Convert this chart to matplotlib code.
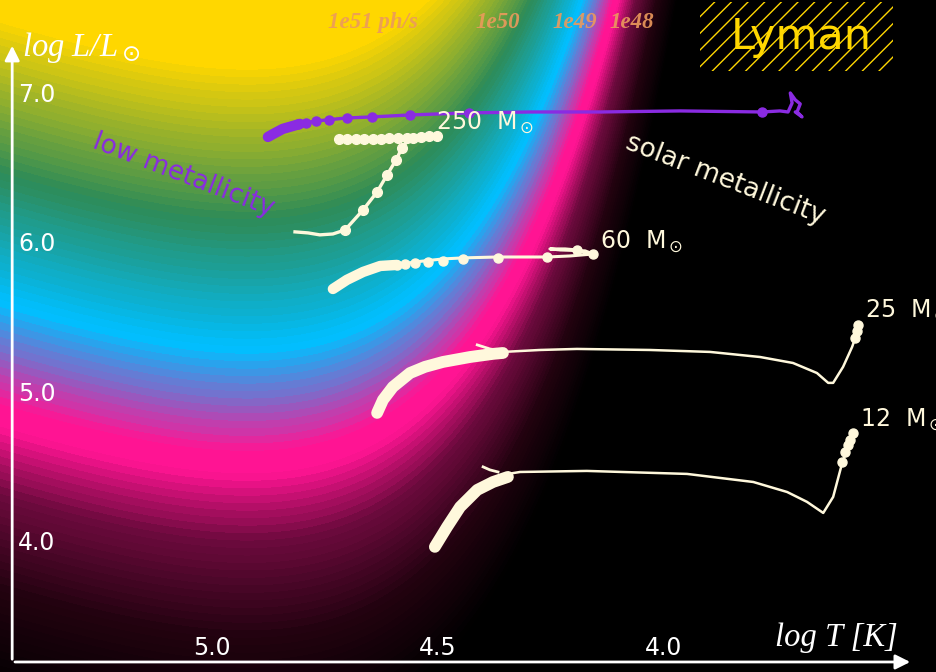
import numpy as np
import matplotlib
matplotlib.use("Agg")
import matplotlib.pyplot as plt
from matplotlib.colors import LinearSegmentedColormap, Normalize
from matplotlib.patches import Rectangle, FancyArrowPatch

# ---------------- data ----------------
# low metallicity 250 Msun track (purple)
lowz_T = [4.876, 4.843, 4.805, 4.769, 4.701, 4.645, 4.561, 4.430, 4.295, 4.140, 3.962, 3.780,
          3.741, 3.723, 3.714, 3.718, 3.707, 3.696, 3.703, 3.692, 3.707]
lowz_L = [6.719, 6.773, 6.806, 6.826, 6.846, 6.853, 6.866, 6.880, 6.886, 6.886, 6.893, 6.886,
          6.893, 6.886, 6.946, 7.013, 6.967, 6.940, 6.886, 6.853, 6.886]
lowz_ms_T = [4.876, 4.860, 4.843, 4.820, 4.805]
lowz_ms_L = [6.719, 6.746, 6.773, 6.793, 6.806]
lowz_dot_T = [4.809, 4.792, 4.769, 4.741, 4.701, 4.645, 4.561, 4.430, 3.780]
lowz_dot_L = [6.806, 6.813, 6.826, 6.833, 6.846, 6.853, 6.866, 6.880, 6.886]

# solar metallicity tracks (cornsilk)
m250_T = [4.718, 4.672, 4.627, 4.583, 4.539, 4.501, 4.528, 4.561, 4.574, 4.579, 4.592, 4.612,
          4.634, 4.665, 4.705, 4.732, 4.761, 4.787, 4.816]
m250_L = [6.706, 6.706, 6.706, 6.712, 6.719, 6.726, 6.719, 6.706, 6.666, 6.645, 6.565, 6.465,
          6.351, 6.231, 6.097, 6.070, 6.064, 6.077, 6.084]
m250_dot_T = [4.718, 4.701, 4.681, 4.663, 4.643, 4.625, 4.608, 4.588, 4.568, 4.554, 4.537, 4.519,
              4.501, 4.705, 4.665, 4.634, 4.612, 4.592, 4.579]
m250_dot_L = [6.706, 6.706, 6.706, 6.706, 6.706, 6.706, 6.712, 6.712, 6.712, 6.712, 6.719, 6.726,
              6.726, 6.097, 6.231, 6.351, 6.465, 6.565, 6.645]

m60_ms_T = [4.732, 4.701, 4.665, 4.627, 4.590]
m60_ms_L = [5.702, 5.763, 5.816, 5.856, 5.863]
m60_T = [4.590, 4.550, 4.488, 4.443, 4.366, 4.257, 4.206, 4.155, 4.173, 4.228, 4.251, 4.217, 4.191, 4.169]
m60_L = [5.863, 5.883, 5.903, 5.910, 5.916, 5.916, 5.923, 5.936, 5.957, 5.963, 5.970, 5.970, 5.963, 5.943]
m60_dot_T = [4.590, 4.572, 4.550, 4.521, 4.488, 4.443, 4.366, 4.257, 4.191, 4.155]
m60_dot_L = [5.863, 5.870, 5.876, 5.883, 5.890, 5.903, 5.910, 5.916, 5.963, 5.936]

m25_ms_T = [4.634, 4.621, 4.599, 4.561, 4.528, 4.488, 4.428, 4.377, 4.355]
m25_ms_L = [4.873, 4.960, 5.047, 5.140, 5.181, 5.214, 5.247, 5.268, 5.274]
m25_hook_T = [4.412, 4.384, 4.361]
m25_hook_L = [5.328, 5.301, 5.288]
m25_T = [4.355, 4.273, 4.191, 4.029, 3.896, 3.785, 3.712, 3.659, 3.634, 3.623, 3.601, 3.581, 3.574, 3.568]
m25_L = [5.281, 5.294, 5.301, 5.294, 5.281, 5.247, 5.207, 5.140, 5.074, 5.074, 5.181, 5.314, 5.375, 5.462]
m25_dot_T = [3.574, 3.570, 3.568]
m25_dot_L = [5.375, 5.421, 5.462]

m12_ms_T = [4.506, 4.479, 4.450, 4.412, 4.377, 4.344]
m12_ms_L = [3.977, 4.110, 4.244, 4.358, 4.411, 4.445]
m12_hook_T = [4.399, 4.384, 4.366]
m12_hook_L = [4.512, 4.492, 4.478]
m12_T = [4.344, 4.317, 4.169, 3.947, 3.800, 3.725, 3.681, 3.645, 3.623, 3.603, 3.590, 3.579]
m12_L = [4.465, 4.478, 4.485, 4.465, 4.411, 4.344, 4.278, 4.204, 4.311, 4.538, 4.645, 4.746]
m12_dot_T = [3.603, 3.596, 3.590, 3.585, 3.579]
m12_dot_L = [4.545, 4.612, 4.659, 4.692, 4.739]

mass_labels = ["250  M$_\\odot$", "60  M$_\\odot$", "25  M$_\\odot$", "12  M$_\\odot$"]
mass_label_T = [4.503, 4.140, 3.552, 3.563]
mass_label_L = [6.813, 6.017, 5.555, 4.826]

flux_labels = ["1e51 ph/s", "1e50", "1e49", "1e48"]
flux_label_T = [4.743, 4.417, 4.246, 4.118]
flux_label_L = 7.485

xticks = [5.0, 4.5, 4.0]
yticks = [7.0, 6.0, 5.0, 4.0]

# colour scale of ionising photon rate (log10 Q)
q_nodes = [46.5, 47.2, 47.85, 48.30, 48.45, 49.14, 50.00, 51.04]
q_colors = ["#000000", "#22020F", "#6E0A3E", "#FF1493", "#FF1493", "#00BFFF", "#2E8B57", "#FFD700"]
E0 = 15.6  # effective ionisation edge used for the background [eV]

# ---------------- figure ----------------
fig = plt.figure(figsize=(9.36, 6.72), dpi=100)
ax = fig.add_axes([0, 0, 1, 1])
ax.set_xlim(5.470, 3.395)
ax.set_ylim(3.140, 7.635)
ax.axis("off")

# background: blackbody ionising photon rate
k_eV = 8.617e-5
xs = np.linspace(1e-6, 90, 200001)
integrand = xs**2 / np.expm1(xs)
dx = xs[1] - xs[0]
G_cum = np.cumsum(integrand[::-1])[::-1] * dx
lT = np.linspace(3.3, 5.6, 500)
lL = np.linspace(3.0, 7.8, 400)
TT, LL = np.meshgrid(lT, lL)
x0 = E0 / (k_eV * 10**TT)
G = np.interp(x0, xs, G_cum)
logQ = (LL + np.log10(3.828e33) + np.log10(x0 * G + 1e-300)
        - np.log10(E0 * 1.602e-12 * np.pi**4 / 15))

pos = [(q - q_nodes[0]) / (q_nodes[-1] - q_nodes[0]) for q in q_nodes]
cmap = LinearSegmentedColormap.from_list("lyman", list(zip(pos, q_colors)))
cmap.set_under("black")
cmap.set_over(q_colors[-1])
levels = np.arange(q_nodes[0], q_nodes[-1] + 0.001, 0.05)
ax.contourf(TT, LL, logQ, levels=levels, cmap=cmap, norm=Normalize(q_nodes[0], q_nodes[-1]),
            extend="both", zorder=0, antialiased=False)

# tracks
purple = "#8A2BE2"
cs = "#FFF8DC"
ax.plot(lowz_T, lowz_L, color=purple, lw=2.4, zorder=3, solid_capstyle="round")
ax.plot(lowz_ms_T, lowz_ms_L, color=purple, lw=7.5, zorder=3, solid_capstyle="round")
ax.plot(lowz_dot_T, lowz_dot_L, "o", color=purple, ms=6.5, zorder=3)

ax.plot(m250_T, m250_L, color=cs, lw=2.4, zorder=3)
ax.plot(m250_dot_T, m250_dot_L, "o", color=cs, ms=7, zorder=3)

ax.plot(m60_ms_T, m60_ms_L, color=cs, lw=7.5, zorder=3, solid_capstyle="round")
ax.plot(m60_T, m60_L, color=cs, lw=2.2, zorder=3)
ax.plot(m60_dot_T, m60_dot_L, "o", color=cs, ms=6.5, zorder=3)

for msT, msL, hT, hL, tT, tL, dT, dL in [
        (m25_ms_T, m25_ms_L, m25_hook_T, m25_hook_L, m25_T, m25_L, m25_dot_T, m25_dot_L),
        (m12_ms_T, m12_ms_L, m12_hook_T, m12_hook_L, m12_T, m12_L, m12_dot_T, m12_dot_L)]:
    ax.plot(msT, msL, color=cs, lw=8.5, zorder=3, solid_capstyle="round")
    ax.plot(hT, hL, color=cs, lw=2.0, zorder=3)
    ax.plot(tT, tL, color=cs, lw=1.8, zorder=3)
    ax.plot(dT, dL, "o", color=cs, ms=6.5, zorder=3)

for lab, t, l in zip(mass_labels, mass_label_T, mass_label_L):
    ax.text(t, l, lab, color=cs, fontsize=17, ha="left", va="center", family="DejaVu Sans", zorder=4)

ax.text(5.064, 6.465, "low metallicity", color=purple, fontsize=19, rotation=-21,
        ha="center", va="center", rotation_mode="anchor", zorder=4)
ax.text(3.863, 6.431, "solar metallicity", color=cs, fontsize=19, rotation=-21,
        ha="center", va="center", rotation_mode="anchor", zorder=4)

for lab, t in zip(flux_labels, flux_label_T):
    ax.text(t, flux_label_L, lab, color="#EC9A5C", alpha=0.9, fontsize=16.5, style="italic",
            weight="bold", family="Liberation Serif", ha="left", va="center", zorder=4)

# ticks
for t in xticks:
    ax.text(t, 3.301, f"{t:.1f}", color="white", fontsize=17, ha="center", va="center", zorder=4)
for l in yticks:
    ax.text(5.388, l, f"{l:.1f}", color="white", fontsize=17, ha="center", va="center", zorder=4)

# axes arrows
ax.add_patch(FancyArrowPatch((5.443, 3.207), (5.443, 7.348), arrowstyle="-|>", mutation_scale=22,
                             color="white", lw=2, zorder=5))
ax.add_patch(FancyArrowPatch((5.443, 3.207), (3.446, 3.207), arrowstyle="-|>", mutation_scale=22,
                             color="white", lw=2, zorder=5))
ax.text(3.616, 3.371, "log T [K]", color="white", fontsize=23.5, style="italic",
        family="Liberation Serif", ha="center", va="center", zorder=5)
ax.text(5.421, 7.320, "log L/L$_\\odot$", color="white", fontsize=23.5, style="italic",
        family="Liberation Serif", ha="left", va="center", zorder=5)

# Lyman box
plt.rcParams["hatch.linewidth"] = 1.0
ax.add_patch(Rectangle((3.918, 7.161), 3.490 - 3.918, 7.622 - 7.161, facecolor="black",
                       edgecolor="#FFD700", hatch="//", lw=0, zorder=4))
ax.text(3.694, 7.388, "Lyman", color="#FFD700", fontsize=31, ha="center", va="center", zorder=5)

fig.savefig("out.png", dpi=100, facecolor="black")
